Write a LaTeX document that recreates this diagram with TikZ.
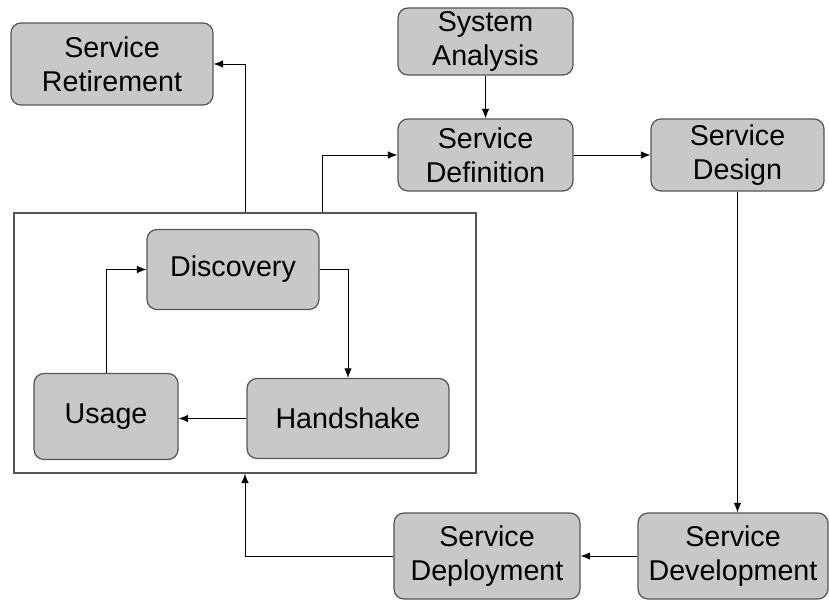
\documentclass[tikz,border=0pt]{standalone}
\usepackage{fontspec}
\setmainfont{Liberation Sans}
\usetikzlibrary{arrows.meta}
\definecolor{phasefill}{RGB}{200,200,200}
\definecolor{phaseline}{RGB}{85,85,85}

\begin{document}
\begin{tikzpicture}[x=0.02cm,y=-0.02cm,
            phase/.style={draw=phaseline,fill=phasefill,rounded corners=0.2cm,line width=0.7pt,
                align=center,inner sep=0pt,font=\fontsize{16.3}{19.6}\selectfont},
            flow/.style={-{Latex[length=1.9mm,width=1.5mm]},line width=0.55pt}]
            \useasboundingbox (0,0) rectangle (829,601);

            \node[draw=phaseline,line width=0.7pt,minimum width=9.24cm,minimum height=5.2cm] (stack) at (245,343) {};

            \node[phase,minimum width=4.04cm,minimum height=1.64cm] (retire) at (112,64) {Service\\Retirement};
            \node[phase,minimum width=3.5cm,minimum height=1.34cm] (analysis) at (485.5,41.5) {System\\Analysis};
            \node[phase,minimum width=3.5cm,minimum height=1.44cm] (definition) at (485.5,155) {Service\\Definition};
            \node[phase,minimum width=3.46cm,minimum height=1.44cm] (design) at (737.5,155) {Service\\Design};
            \node[phase,minimum width=3.44cm,minimum height=1.6cm] (discovery) at (233,269.5) {Discovery};
            \node[phase,minimum width=2.88cm,minimum height=1.72cm] (usage) at (106,416.5) {Usage};
            \node[phase,minimum width=4.04cm,minimum height=1.6cm] (handshake) at (348,418.5) {Handshake};
            \node[phase,minimum width=3.72cm,minimum height=1.72cm] (deploy) at (487,556) {Service\\Deployment};
            \node[phase,minimum width=3.8cm,minimum height=1.72cm] (develop) at (733,556) {Service\\Development};

            \coordinate (exit) at ([xshift=1.54cm]stack.north);

            \draw[flow] (stack.north) |- (retire.east);
            \draw[flow] (exit) |- (definition.west);
            \draw[flow] (analysis.south) -- (definition.north);
            \draw[flow] (definition.east) -- (design.west);
            \draw[flow] (design.south) -- (design.south |- develop.north);
            \draw[flow] (develop.west) -- (deploy.east);
            \draw[flow] (deploy.west) -| (stack.south);
            \draw[flow] (discovery.east) -| (handshake.north);
            \draw[flow] (handshake.west) -- (handshake.west -| usage.east);
            \draw[flow] (usage.north) |- (discovery.west);

        \end{tikzpicture}
\end{document}
